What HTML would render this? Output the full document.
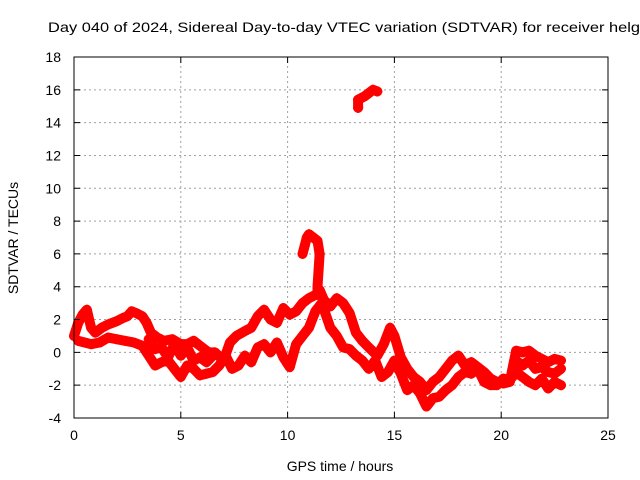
<!DOCTYPE html>
<html><head><meta charset="utf-8"><style>
body{margin:0;background:#fff;}
svg{display:block;font-family:"Liberation Sans",Arial,sans-serif;}
</style></head><body>
<svg id="chart" width="640" height="480">
<rect width="640" height="480" fill="#fff"/>
<text x="48" y="32" font-size="14" textLength="592" lengthAdjust="spacingAndGlyphs">Day 040 of 2024, Sidereal Day-to-day VTEC variation (SDTVAR) for receiver helg</text>
<text x="340" y="471" font-size="14" text-anchor="middle">GPS time / hours</text>
<text transform="translate(18,238) rotate(-90)" font-size="14" text-anchor="middle">SDTVAR / TECUs</text>
<g id="grid"></g><g id="marks"></g><g id="axes"></g>
</svg>
<script>
const xTicks=[0,5,10,15,20,25];
const yTicks=[-4,-2,0,2,4,6,8,10,12,14,16,18];
const branchA=[[0,1.0],[0.2,1.8],[0.4,2.3],[0.6,2.6],[0.8,1.5],[1.0,1.2],[1.3,1.5],[1.6,1.7],[2.0,1.9],[2.3,2.1],[2.5,2.2],[2.7,2.5],[2.9,2.4],[3.2,2.2],[3.4,1.8],[3.6,1.2],[3.9,0.9],[4.2,0.7],[4.6,0.8],[5.0,0.5],[5.3,0.5],[5.6,0.7],[6.0,0.3],[6.3,0.0],[6.6,0.0],[7.0,-0.5],[7.3,0.6],[7.6,1.0],[8.0,1.3],[8.3,1.5],[8.6,2.2],[8.9,2.6],[9.2,2.0],[9.5,1.8],[9.8,2.7],[10.1,2.3],[10.4,2.5],[10.7,3.0],[11.0,3.3],[11.3,3.5],[11.5,3.8],[11.7,3.2],[12.0,2.8],[12.3,3.3],[12.6,3.0],[12.9,2.4],[13.2,1.2],[13.5,0.7],[13.8,0.3],[14.2,-0.2],[14.5,0.5],[14.8,1.5],[15.0,1.0],[15.3,-0.3],[15.6,-1.0],[15.9,-1.5],[16.2,-1.8],[16.5,-2.3],[16.8,-1.8],[17.1,-1.5],[17.4,-1.0],[17.7,-0.5],[18.0,-0.2],[18.3,-0.8],[18.6,-0.6],[18.9,-0.9],[19.2,-1.2],[19.5,-1.6],[19.8,-1.8],[20.1,-1.9],[20.4,-1.8],[20.7,0.1],[21.0,0.0],[21.3,0.1],[21.6,-0.2],[21.9,-0.4],[22.2,-0.6],[22.5,-0.4],[22.8,-0.5]];
const branchB=[[0.2,0.7],[0.5,0.6],[0.8,0.5],[1.2,0.6],[1.6,0.9],[2.0,0.8],[2.4,0.7],[2.8,0.6],[3.2,0.4],[3.5,-0.2],[3.8,-0.8],[4.1,-0.6],[4.4,-0.5],[4.7,-1.0],[5.0,-1.5],[5.3,-0.8],[5.6,-1.0],[5.9,-1.4],[6.2,-1.3],[6.5,-1.2],[6.8,-0.8],[7.1,-0.2],[7.4,-1.0],[7.7,-0.8],[8.0,-0.2],[8.3,-0.6],[8.6,0.3],[8.9,0.5],[9.2,0.0],[9.5,0.6],[9.8,-0.3],[10.1,-0.9],[10.4,0.5],[10.7,1.0],[11.0,1.5],[11.3,2.5],[11.6,3.0],[12.0,1.5],[12.3,1.0],[12.6,0.3],[12.9,0.2],[13.2,-0.2],[13.5,-0.5],[13.8,-1.0],[14.1,-0.5],[14.4,-1.5],[14.7,-1.2],[15.0,-0.5],[15.3,-1.3],[15.6,-2.3],[15.9,-2.0],[16.2,-2.5],[16.5,-3.3],[16.8,-2.8],[17.1,-2.7],[17.4,-2.3],[17.7,-2.0],[18.0,-1.5],[18.3,-1.2],[18.6,-1.3],[18.9,-1.0],[19.2,-1.8],[19.5,-2.0],[19.8,-2.0],[20.1,-1.6],[20.4,-1.7],[20.7,-1.2],[21.0,-1.5],[21.3,-1.8],[21.6,-2.0],[21.9,-1.6],[22.2,-2.2],[22.5,-1.8],[22.8,-2.0]];
const branchC1=[[3.5,0.8],[3.8,0.2],[4.1,0.3],[4.4,-0.3],[4.7,0.5],[5.0,-0.2],[5.3,0.3],[5.6,-0.5],[5.9,-0.3],[6.2,-0.6],[6.5,-0.2]];
const branchC2=[[20.7,-0.5],[21.0,-0.8],[21.3,-0.5],[21.6,-1.0],[21.9,-0.9],[22.2,-1.2],[22.5,-1.3],[22.8,-1.0]];
const spike=[[10.7,6.0],[10.8,6.5],[10.9,7.0],[11.0,7.2],[11.2,7.0],[11.4,6.8],[11.5,6.0],[11.45,5.0],[11.4,4.0],[11.4,3.5]];
const topCluster=[[13.3,14.9],[13.3,15.4],[13.6,15.6],[13.8,15.8],[14.0,16.0],[14.2,15.9]];
const X0=74,X1=608,Y0=418,Y1=57,XMIN=0,XMAX=25,YMIN=-4,YMAX=18;
const sx=v=>X0+(v-XMIN)/(XMAX-XMIN)*(X1-X0);
const sy=v=>Y0-(v-YMIN)/(YMAX-YMIN)*(Y0-Y1);
const NS="http://www.w3.org/2000/svg";
function mk(tag,attrs,parent){const e=document.createElementNS(NS,tag);for(const k in attrs)e.setAttribute(k,attrs[k]);parent.appendChild(e);return e;}
const grid=document.getElementById('grid'),marks=document.getElementById('marks'),axes=document.getElementById('axes');
xTicks.forEach(t=>{
 if(t>XMIN&&t<XMAX){const g=mk('line',{x1:sx(t),x2:sx(t),y1:Y0,y2:Y1,stroke:'#a0a0a0','stroke-dasharray':'2,3'},grid);
 
 }
 const tk=mk('path',{d:`M${sx(t)},${Y0}v-6M${sx(t)},${Y1}v6`,stroke:'#000'},axes);
 
 
 const l=mk('text',{x:sx(t),y:Y0+22,'font-size':14,'text-anchor':'middle'},axes);l.textContent=t;
 
 
});
yTicks.forEach(t=>{
 if(t>YMIN&&t<YMAX){const g=mk('line',{x1:X0,x2:X1,y1:sy(t),y2:sy(t),stroke:'#a0a0a0','stroke-dasharray':'2,3'},grid);
 
 }
 const tk=mk('path',{d:`M${X0},${sy(t)}h6M${X1},${sy(t)}h-6`,stroke:'#000'},axes);
 
 
 const l=mk('text',{x:X0-13,y:sy(t)+5,'font-size':14,'text-anchor':'end'},axes);l.textContent=t;
 
 
});
const border=mk('rect',{x:X0,y:Y1,width:X1-X0,height:Y0-Y1,fill:'none',stroke:'#000'},axes);


[[branchA,'branch-a'],[branchB,'branch-b'],[branchC1,'branch-c1'],[branchC2,'branch-c2'],[spike,'spike'],[topCluster,'top-cluster']].forEach(([s,name])=>{
 const pl=mk('polyline',{points:s.map(p=>sx(p[0])+','+sy(p[1])).join(' '),fill:'none',stroke:'#f00','stroke-width':10,'stroke-linejoin':'round','stroke-linecap':'round'},marks);
 
 
 s.forEach(p=>{
  const m=mk('path',{d:`M${sx(p[0])-5},${sy(p[1])}h10M${sx(p[0])},${sy(p[1])-5}v10`,stroke:'#f00','stroke-width':2},marks);
  
  
 });
});
</script>
</body></html>
